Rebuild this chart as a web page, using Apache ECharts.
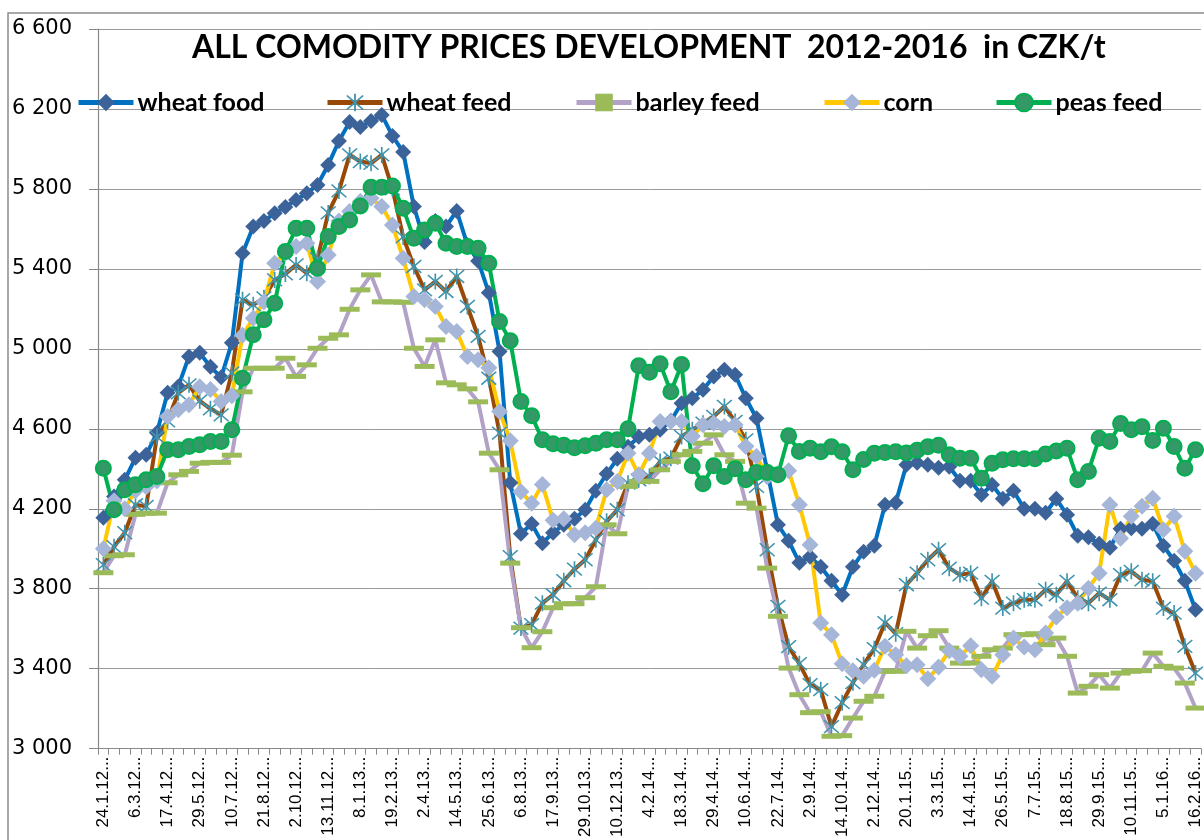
<!DOCTYPE html>
<html><head><meta charset="utf-8">
<script src="https://cdn.jsdelivr.net/npm/echarts@6/dist/echarts.min.js"></script>
<style>html,body{margin:0;padding:0;background:#fff}#c{width:1204px;height:840px}</style>
</head><body><div id="c"></div>
<script>
const dates = ["24.1.12","7.2.12","21.2.12","6.3.12","20.3.12","3.4.12","17.4.12","1.5.12","15.5.12","29.5.12","12.6.12","26.6.12","10.7.12","24.7.12","7.8.12","21.8.12","4.9.12","18.9.12","2.10.12","16.10.12","30.10.12","13.11.12","27.11.12","11.12.12","8.1.13","22.1.13","5.2.13","19.2.13","5.3.13","19.3.13","2.4.13","16.4.13","30.4.13","14.5.13","28.5.13","11.6.13","25.6.13","9.7.13","23.7.13","6.8.13","20.8.13","3.9.13","17.9.13","1.10.13","15.10.13","29.10.13","12.11.13","26.11.13","10.12.13","7.1.14","21.1.14","4.2.14","18.2.14","4.3.14","18.3.14","1.4.14","15.4.14","29.4.14","13.5.14","27.5.14","10.6.14","24.6.14","8.7.14","22.7.14","5.8.14","19.8.14","2.9.14","16.9.14","30.9.14","14.10.14","28.10.14","11.11.14","2.12.14","16.12.14","6.1.15","20.1.15","3.2.15","17.2.15","3.3.15","17.3.15","31.3.15","14.4.15","28.4.15","12.5.15","26.5.15","9.6.15","23.6.15","7.7.15","21.7.15","4.8.15","18.8.15","1.9.15","15.9.15","29.9.15","13.10.15","27.10.15","10.11.15","24.11.15","8.12.15","5.1.16","19.1.16","2.2.16","16.2.16"];

const wheatFood = [4155,4262,4345,4455,4470,4580,4780,4812,4962,4980,4910,4858,5030,5478,5612,5640,5678,5710,5745,5778,5820,5920,6040,6135,6110,6140,6170,6065,5985,5712,5535,5640,5612,5690,5520,5440,5280,4987,4330,4075,4125,4028,4080,4120,4150,4195,4290,4375,4450,4510,4560,4570,4595,4640,4728,4753,4795,4862,4895,4870,4753,4653,4390,4120,4040,3930,3960,3910,3840,3770,3910,3985,4015,4220,4230,4420,4430,4420,4405,4410,4340,4340,4270,4320,4250,4290,4200,4200,4180,4250,4170,4065,4058,4025,4005,4100,4103,4100,4125,4015,3940,3840,3695];

const wheatFeed = [3920,4010,4080,4220,4212,4560,4640,4780,4820,4740,4700,4670,4880,5245,5220,5255,5345,5375,5420,5378,5450,5680,5790,5970,5937,5928,5970,5800,5560,5412,5295,5337,5287,5362,5212,5062,4853,4578,3960,3603,3620,3728,3770,3840,3898,3945,4045,4137,4195,4328,4345,4362,4437,4453,4562,4595,4628,4662,4712,4637,4545,4312,3995,3712,3510,3425,3320,3295,3110,3230,3330,3420,3500,3630,3575,3820,3878,3945,3995,3903,3870,3878,3753,3837,3703,3728,3745,3745,3795,3770,3837,3753,3728,3778,3745,3870,3887,3845,3837,3703,3678,3512,3378];

const barleyFeed = [3880,3965,3970,4172,4178,4178,4330,4370,4387,4428,4432,4432,4468,4785,4903,4903,4903,4953,4862,4920,5003,5053,5070,5198,5295,5370,5235,5235,5233,5003,4912,5045,4830,4820,4800,4735,4478,4395,3928,3605,3505,3585,3705,3725,3725,3755,3810,4120,4075,4312,4337,4337,4395,4437,4470,4487,4528,4570,4470,4437,4228,4203,3903,3662,3403,3270,3180,3185,3062,3065,3153,3237,3262,3387,3387,3587,3503,3565,3590,3503,3428,3428,3462,3495,3503,3570,3570,3575,3520,3553,3462,3278,3312,3370,3303,3378,3387,3390,3478,3412,3403,3328,3203];

const corn = [4000,4240,4200,4290,4310,4340,4662,4695,4720,4810,4797,4737,4765,5068,5153,5235,5428,5478,5512,5528,5337,5470,5640,5687,5737,5753,5712,5620,5453,5262,5245,5212,5112,5087,4962,4945,4905,4687,4540,4285,4228,4322,4142,4150,4070,4080,4103,4295,4337,4478,4370,4478,4637,4637,4637,4562,4620,4628,4612,4620,4512,4462,4360,4375,4390,4220,4020,3628,3570,3425,3390,3362,3392,3512,3470,3415,3420,3350,3408,3490,3462,3515,3395,3362,3470,3553,3508,3495,3578,3658,3705,3728,3803,3878,4220,4053,4162,4212,4253,4095,4162,3987,3878];

const peasFeed = [4403,4195,4295,4320,4345,4362,4495,4495,4512,4520,4537,4537,4595,4853,5070,5145,5228,5487,5603,5603,5403,5562,5612,5645,5715,5808,5808,5815,5703,5553,5595,5628,5528,5512,5512,5503,5428,5137,5040,4737,4665,4545,4525,4518,4505,4515,4528,4545,4545,4600,4915,4883,4925,4785,4922,4415,4325,4415,4362,4400,4345,4382,4382,4370,4565,4487,4503,4485,4510,4485,4395,4447,4478,4481,4485,4479,4493,4510,4518,4470,4453,4453,4353,4428,4445,4450,4450,4450,4474,4489,4503,4345,4387,4553,4537,4627,4595,4610,4541,4603,4512,4403,4495];

const seriesNames = ["wheat food","wheat feed","barley feed","corn","peas feed"];
const yMin = 3000, yMax = 6600, yStep = 400;

const ASTERISK = 'path://M9.1 0H10.9V20H9.1Z M1.36 2.64L2.64 1.36L18.64 17.36L17.36 18.64Z M17.36 1.36L18.64 2.64L2.64 18.64L1.36 17.36Z';
const DASH = 'path://M0 0H18V5H0Z';

const styles = [
  {line:'#0070C0', symbol:'diamond', size:16, fill:'#3C6399'},
  {line:'#984807', symbol:ASTERISK, size:16, fill:'#4095AE'},
  {line:'#B3A2C7', symbol:DASH, size:[20,5], fill:'#9BBB59'},
  {line:'#FFC800', symbol:'diamond', size:17, fill:'#A6B6D8'},
  {line:'#00B050', symbol:'circle', size:15, fill:'#339966', border:'#00B050'}
];
const values = [wheatFood, wheatFeed, barleyFeed, corn, peasFeed];

const chart = echarts.init(document.getElementById('c'), null, {renderer:'canvas'});
const legendLeft = [76, 325, 574, 822, 994];

const option = {
  animation: false,
  backgroundColor: '#fff',
  title: {
    text: 'ALL COMODITY PRICES DEVELOPMENT  2012-2016  in CZK/t',
    left: 192, top: 32, padding: 0,
    textStyle: {fontFamily: 'Lato', fontWeight: 'bold', fontSize: 32, color: '#000'}
  },
  legend: seriesNames.map((n, i) => ({
    data: [n], left: legendLeft[i], top: 90, padding: 0,
    itemWidth: 55, itemHeight: 22, itemGap: 0,
    lineStyle: {width: 5},
    textStyle: {fontFamily: 'Lato', fontWeight: 'bold', fontSize: 25, color: '#000', padding: [0, 0, 0, -1]},
    selectedMode: false
  })),
  graphic: [{
    type: 'rect', z: -1, silent: true,
    shape: {x: 8, y: 13, width: 1400, height: 1000},
    style: {fill: 'none', stroke: '#8c8c8c', lineWidth: 1.5}
  }],
  grid: {left: 98, top: 29, width: 1109, height: 720, containLabel: false},
  xAxis: {
    type: 'category', data: dates, boundaryGap: true,
    axisLine: {lineStyle: {color: '#888', width: 1.2}},
    axisTick: {show: true, interval: 0, length: 6, lineStyle: {color: '#888'}},
    axisLabel: {interval: 2, rotate: 90, margin: 8, fontSize: 17, fontFamily: 'Liberation Sans', color: '#000',
      formatter: v => v + '...'},
    splitLine: {show: false}
  },
  yAxis: {
    type: 'value', min: yMin, max: yMax, interval: yStep,
    axisLine: {show: true, lineStyle: {color: '#888', width: 1.2}},
    axisTick: {show: true, length: 9, lineStyle: {color: '#888'}},
    axisLabel: {margin: 26, fontSize: 21, fontFamily: 'DejaVu Sans', color: '#000',
      formatter: v => String(v).replace(/\B(?=(\d{3})+(?!\d))/g, ' ')},
    splitLine: {lineStyle: {color: '#9a9a9a', width: 1}}
  },
  series: seriesNames.map((n, i) => ({
    name: n, type: 'line', data: values[i],
    showSymbol: true, showAllSymbol: true,
    symbol: styles[i].symbol, symbolSize: styles[i].size, symbolKeepAspect: false,
    lineStyle: {color: styles[i].line, width: 4},
    itemStyle: Object.assign({color: styles[i].fill}, styles[i].border ? {borderColor: styles[i].border, borderWidth: 2} : {borderWidth: 0}),
    color: styles[i].line,
    emphasis: {disabled: true}
  }))
};
chart.setOption(option);
</script></body></html>
